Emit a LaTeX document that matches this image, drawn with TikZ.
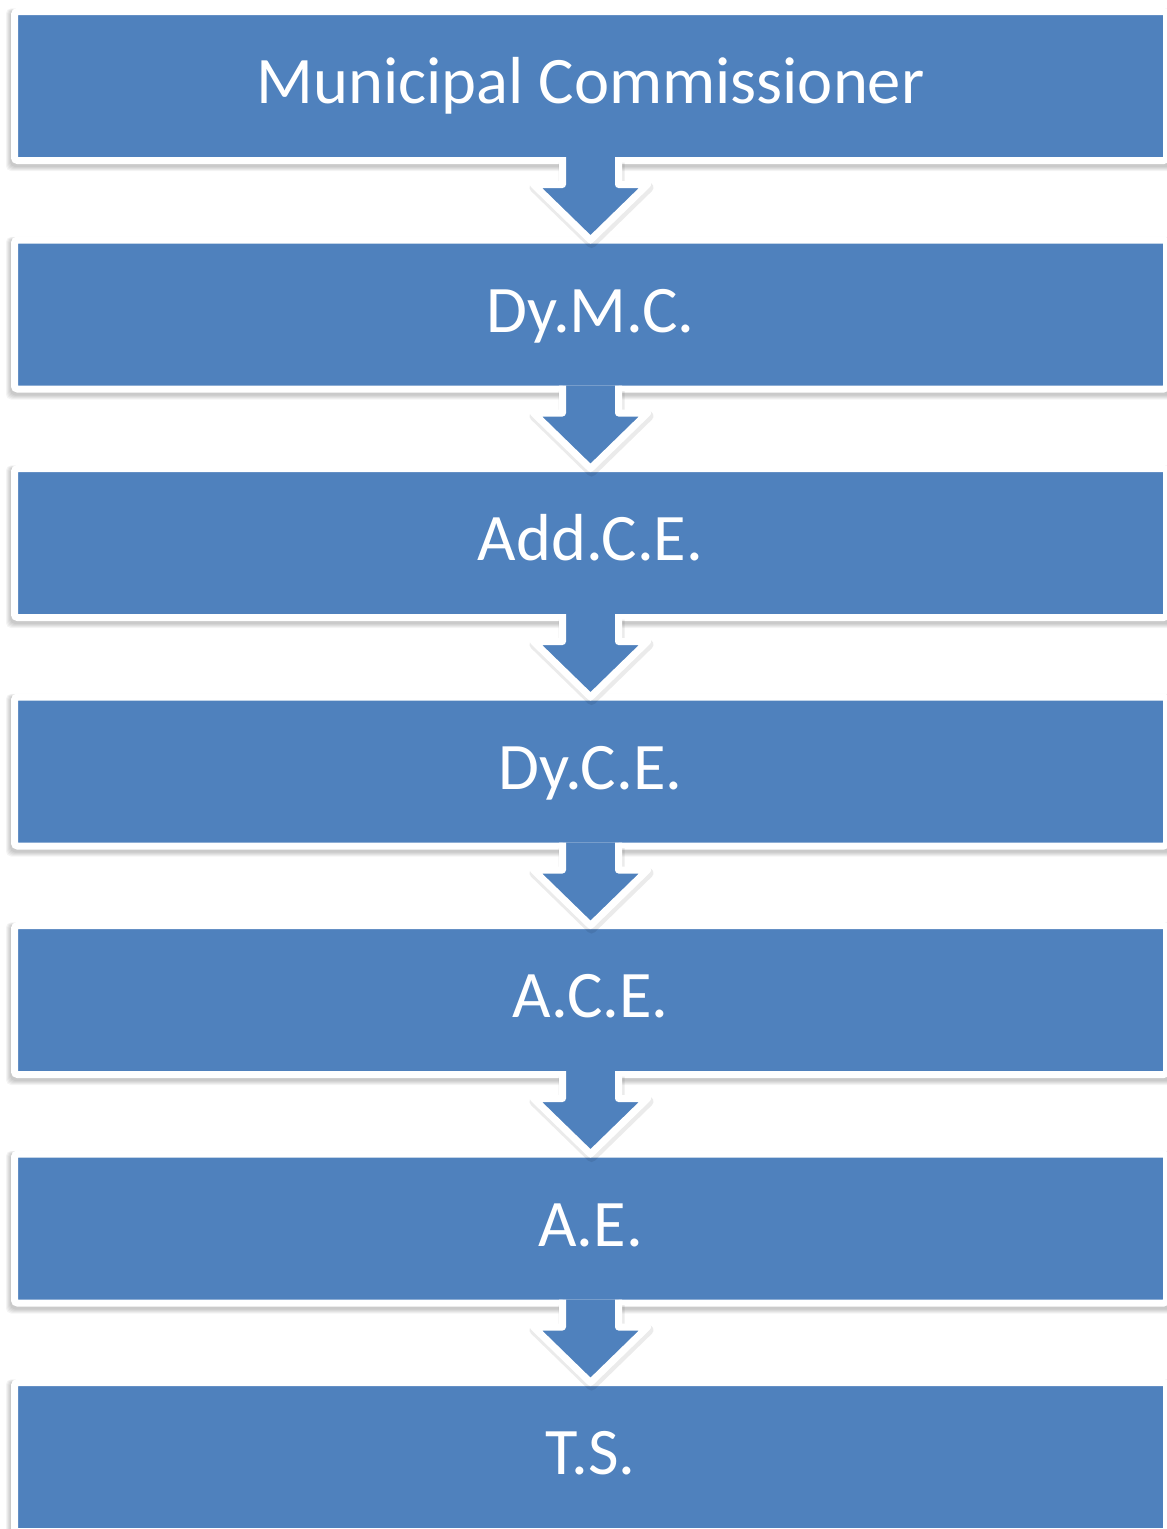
\documentclass[tikz,border=0pt]{standalone}
\usepackage{fontspec}
\setmainfont{Carlito}
\usetikzlibrary{calc}
\definecolor{boxblue}{RGB}{79,129,189}
\tikzset{
  orgbox/.style={draw=white, line width=7pt, fill=boxblue, rounded corners=3pt,
    minimum width=1152pt, minimum height=149pt, text=white,
    font=\fontsize{66.5}{74}\selectfont, text height=41pt, text depth=6pt,
    inner sep=0pt, outer sep=0pt},
  boxshadow/.style={fill=black, opacity=0.045, rounded corners=5pt},
  arrowline/.style={draw=white, line width=7pt, line join=round},
  arrowshadow/.style={draw=black, opacity=0.08, line width=10pt, line join=round},
}
\begin{document}
\begin{tikzpicture}[x=1pt,y=-1pt]
\fill[white] (0,0) rectangle (1167,1529);
\useasboundingbox (0,0) rectangle (1167,1529);
% shadows of boxes
\foreach \i in {0,...,6}{
  \pgfmathsetmacro{\T}{15+228.5*\i}
  \foreach \s in {0,...,4}{
    \fill[boxshadow] (10-\s, \T-5-0.4*\s) rectangle (1172+\s, \T+152+\s);
  }
}
% boxes
\node[orgbox] (b1) at (590.5, 86)   {Municipal Commissioner};
\node[orgbox] (b2) at (590.5, 314.5) {Dy.M.C.};
\node[orgbox] (b3) at (590.5, 543)   {Add.C.E.};
\node[orgbox] (b4) at (590.5, 771.5) {Dy.C.E.};
\node[orgbox] (b5) at (590.5, 1000)  {A.C.E.};
\node[orgbox] (b6) at (590.5, 1228.5) {A.E.};
\node[orgbox] (b7) at (590.5, 1457)  {T.S.};
% block arrows
\foreach \a/\b in {b1/b2,b2/b3,b3/b4,b4/b5,b5/b6,b6/b7}{
  \draw[arrowshadow] ([shift={(-27,2)}]\a.south) -- ([shift={(-27,27)}]\a.south)
     -- ([shift={(-56,27)}]\a.south) -- ([shift={(1,3)}]\b.north)
     -- ([shift={(58,27)}]\a.south) -- ([shift={(29,27)}]\a.south)
     -- ([shift={(29,2)}]\a.south);
  \fill[boxblue] ([shift={(-28,-3.5)}]\a.south) -- ([shift={(-28,24)}]\a.south)
     -- ([shift={(-57,24)}]\a.south) -- (\b.north)
     -- ([shift={(57,24)}]\a.south) -- ([shift={(28,24)}]\a.south)
     -- ([shift={(28,-3.5)}]\a.south) -- cycle;
  \draw[arrowline] ([shift={(-28,-3.5)}]\a.south) -- ([shift={(-28,24)}]\a.south)
     -- ([shift={(-57,24)}]\a.south) -- (\b.north)
     -- ([shift={(57,24)}]\a.south) -- ([shift={(28,24)}]\a.south)
     -- ([shift={(28,-3.5)}]\a.south);
}
\end{tikzpicture}
\end{document}
